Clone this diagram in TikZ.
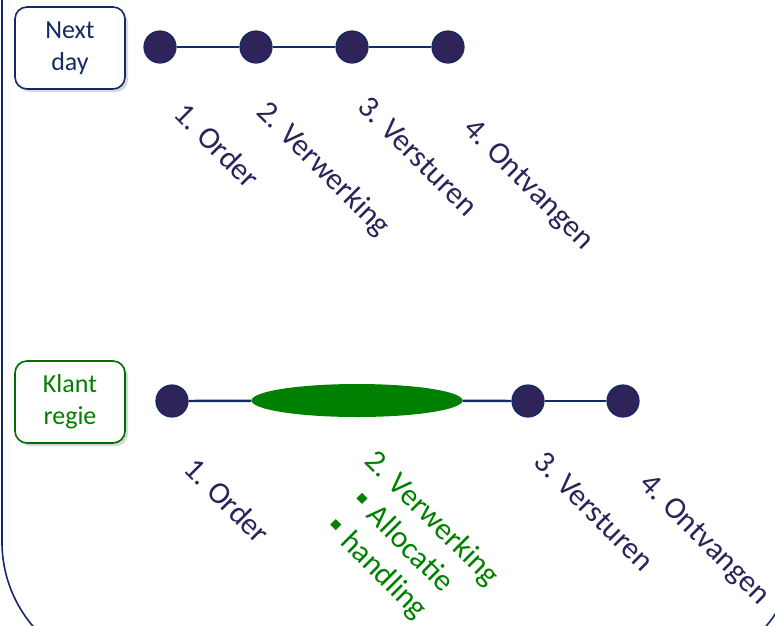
\documentclass[tikz,border=0pt]{standalone}
\usepackage{fontspec}
\setmainfont{Carlito}
\usepackage{tikz}
\usetikzlibrary{shapes,shadows,positioning}

\definecolor{navy}{RGB}{20,42,100}
\definecolor{dotfill}{RGB}{47,36,90}
\definecolor{lbltext}{RGB}{45,35,90}
\definecolor{grn}{RGB}{0,128,0}

\begin{document}
\begin{tikzpicture}[x=1pt,y=-1pt]
\tikzstyle{stap}=[circle, minimum size=32pt, inner sep=0pt, fill=dotfill, draw=navy, line width=1.2pt, node distance=96pt]
\tikzstyle{fase}=[ellipse, minimum width=211pt, minimum height=33pt, inner sep=0pt, fill=grn]
\tikzstyle{box}=[rectangle, rounded corners=12pt, minimum width=110pt, minimum height=82pt, line width=1.6pt, fill=white, align=center, font=\fontsize{26}{32}\selectfont, drop shadow={shadow xshift=3pt, shadow yshift=-3pt, opacity=0.3}]
\tikzstyle{lbl}=[rotate=-45, anchor=base west, inner sep=0pt, text=lbltext, font=\fontsize{31}{37.2}\selectfont]
\tikzstyle{connect}=[draw=navy, line width=2.4pt]
\newcommand{\bulsq}{\hspace*{0.65em}\raisebox{0.22em}{\rule{0.25em}{0.25em}}\hspace{0.38em}}

  \useasboundingbox (0,0) rectangle (775,625);
  \clip (0,0) rectangle (775,625);
  \draw[navy, line width=1.6pt, rounded corners=130pt] (2,-300) rectangle (797,672);

  % next day
  \node[box, draw=navy, text=navy] (nd) at (70,48) {Next\\day};
  \node[stap] (n1) at (160,47) {};
  \node[stap] (n2) [right of =n1] {};
  \node[stap] (n3) [right of =n2] {};
  \node[stap] (n4) [right of =n3] {};
  \node[lbl] (l1) at (172,115) {1. Order};
  \node[lbl] (l2) at (255,113) {2. Verwerking};
  \node[lbl] (l3) at (356,108) {3. Versturen};
  \node[lbl] (l4) at (462,130) {4. Ontvangen};

  % klant regie
  \node[box, draw=grn!85!black, text=grn] (kr) at (70,402) {Klant\\regie};
  \node[stap] (m1) at (172,401) {};
  \node[fase] (m2) at (357,400.5) {};
  \node[stap] (m3) at (528,401) {};
  \node[stap] (m4) [right of =m3, node distance=95pt] {};
  \node[lbl] (k1) at (182,470) {1. Order};
  % base = last line
  \node[lbl, text=grn, align=left] (k2) at (311,515) {2. Verwerking\\\bulsq Allocatie\\\bulsq handling};
  \node[lbl] (k3) at (532,463) {3. Versturen};
  \node[lbl] (k4) at (638,485) {4. Ontvangen};

  \path (n1) edge [connect] (n2)
        (n2) edge [connect] (n3)
        (n3) edge [connect] (n4)
        (m1) edge [connect] (m2)
        (m2) edge [connect] (m3)
        (m3) edge [connect] (m4);

\end{tikzpicture}
\end{document}
